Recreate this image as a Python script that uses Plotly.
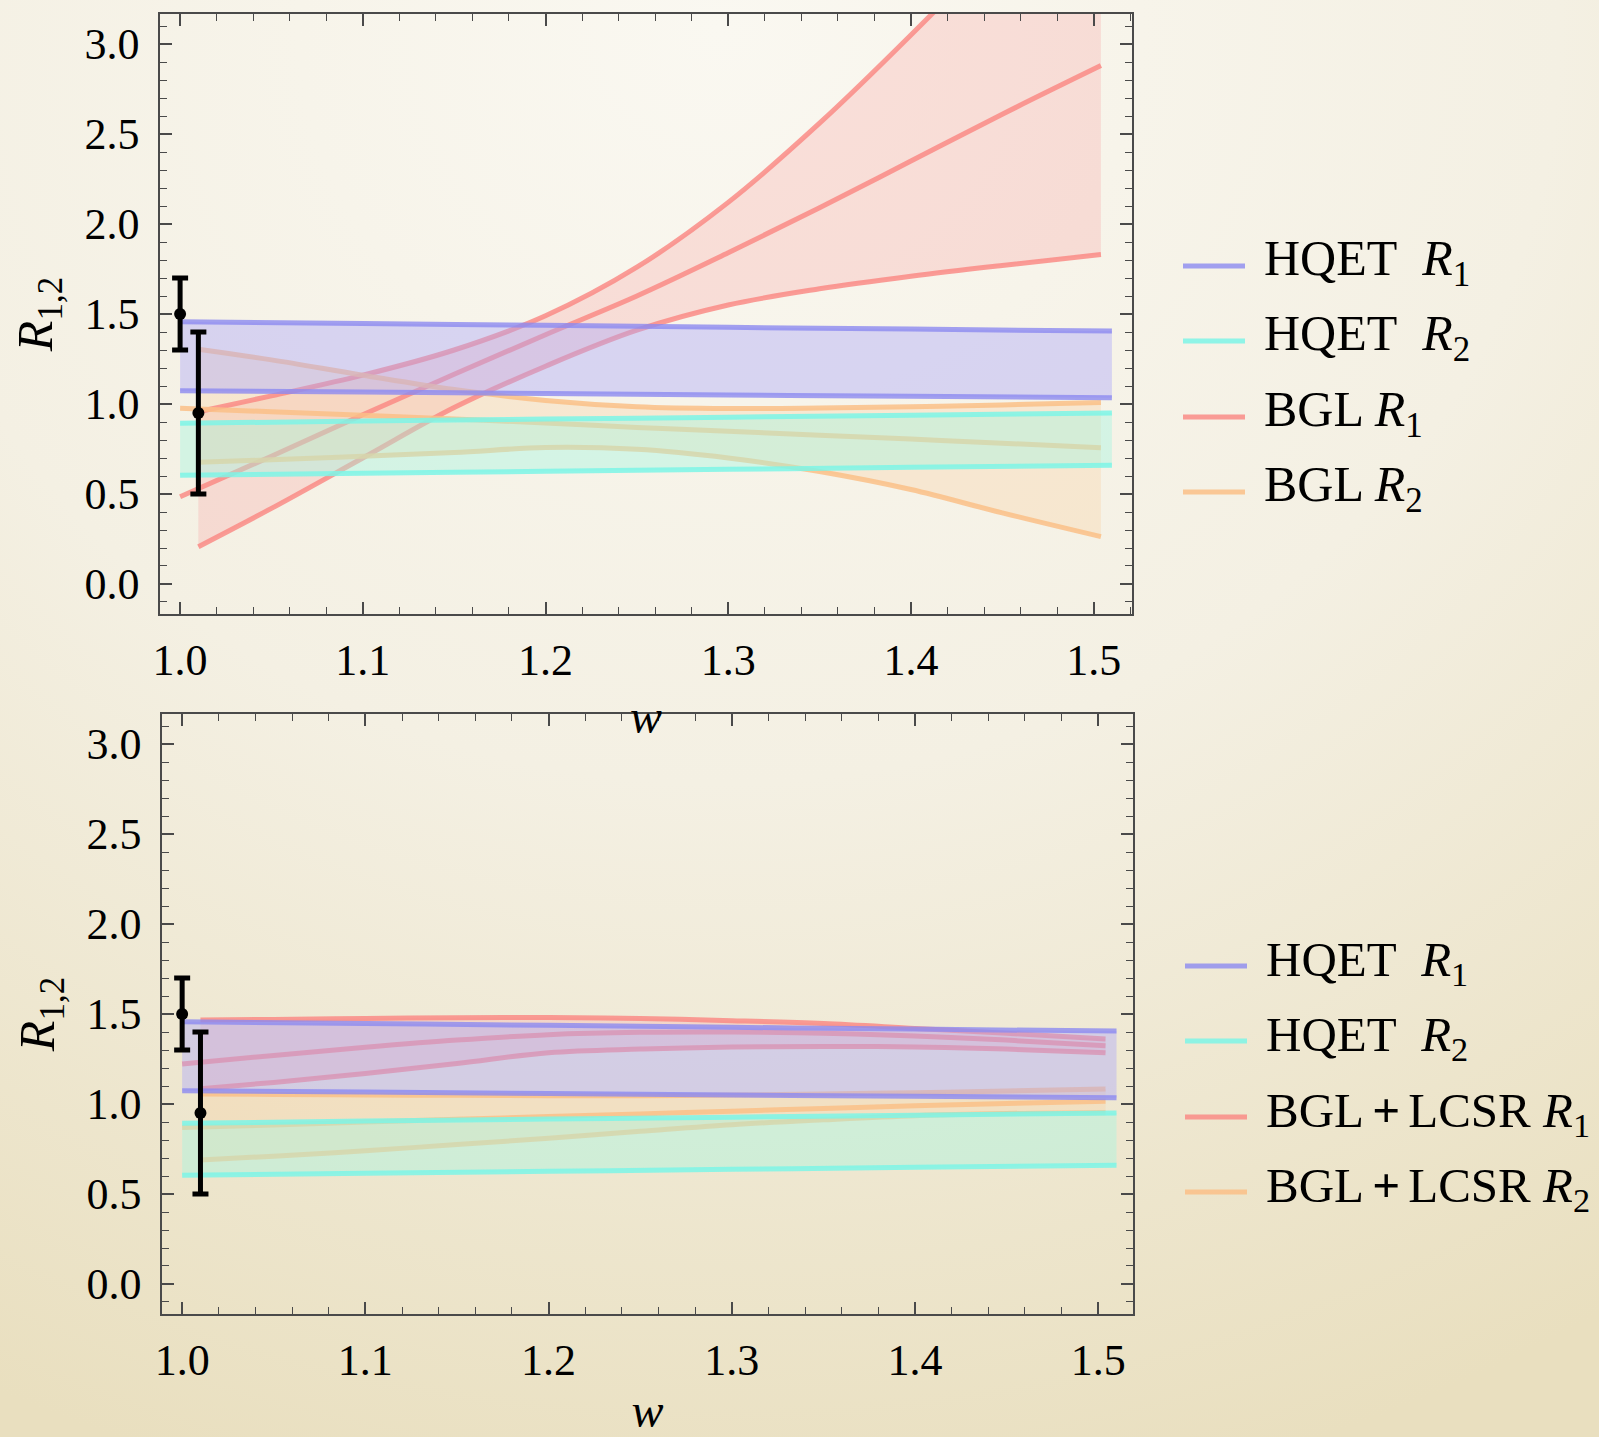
import base64
import plotly.graph_objects as go

# ---------------- data ----------------
# grid of w values for band edges (start at 1.01) and central curves (start at 1.0)
w_band = [1.01, 1.05, 1.10, 1.15, 1.20, 1.25, 1.30, 1.35, 1.40, 1.45, 1.504]
w_cent = [1.00, 1.05, 1.10, 1.15, 1.20, 1.25, 1.30, 1.35, 1.40, 1.45, 1.504]
w_hqet = [1.00, 1.10, 1.20, 1.30, 1.40, 1.51]

# HQET bands (same in both panels)
hqet_r1_hi = [1.457, 1.447, 1.437, 1.426, 1.416, 1.405]
hqet_r1_lo = [1.074, 1.066, 1.058, 1.050, 1.043, 1.035]
hqet_r2_hi = [0.893, 0.905, 0.916, 0.927, 0.938, 0.950]
hqet_r2_lo = [0.604, 0.615, 0.626, 0.637, 0.648, 0.660]

# BGL (top panel)
bgl_r1_hi = [0.957, 1.045, 1.16, 1.30, 1.49, 1.76, 2.12, 2.56, 3.05, 3.57, 4.17]
bgl_r1_c = [0.485, 0.71, 0.94, 1.165, 1.385, 1.60, 1.84, 2.09, 2.35, 2.61, 2.88]
bgl_r1_lo = [0.207, 0.42, 0.70, 0.98, 1.21, 1.41, 1.55, 1.64, 1.71, 1.77, 1.83]
bgl_r2_hi = [1.304, 1.245, 1.16, 1.08, 1.02, 0.985, 0.975, 0.978, 0.985, 0.995, 1.009]
bgl_r2_c = [0.976, 0.957, 0.937, 0.916, 0.895, 0.870, 0.848, 0.827, 0.805, 0.782, 0.757]
bgl_r2_lo = [0.676, 0.69, 0.71, 0.73, 0.758, 0.748, 0.70, 0.625, 0.525, 0.395, 0.263]

# BGL + LCSR (bottom panel)
lcsr_r1_hi = [1.467, 1.47, 1.475, 1.479, 1.48, 1.475, 1.463, 1.447, 1.42, 1.393, 1.361]
lcsr_r1_c = [1.222, 1.27, 1.315, 1.355, 1.385, 1.398, 1.40, 1.393, 1.378, 1.355, 1.324]
lcsr_r1_lo = [1.085, 1.12, 1.17, 1.225, 1.285, 1.305, 1.316, 1.32, 1.317, 1.305, 1.285]
lcsr_r2_hi = [1.055, 1.053, 1.05, 1.048, 1.046, 1.046, 1.05, 1.055, 1.063, 1.072, 1.083]
lcsr_r2_c = [0.869, 0.884, 0.90, 0.915, 0.93, 0.945, 0.96, 0.975, 0.99, 1.003, 1.015]
lcsr_r2_lo = [0.689, 0.71, 0.74, 0.775, 0.81, 0.848, 0.885, 0.912, 0.935, 0.947, 0.952]

# measured points
w_data = [1.0, 1.01]
r_data = [1.5, 0.95]
r_err = [0.2, 0.45]

x_ticks = [1.0, 1.1, 1.2, 1.3, 1.4, 1.5]
y_ticks = [0.0, 0.5, 1.0, 1.5, 2.0, 2.5, 3.0]

legend_top = ["HQET\u00a0\u00a0<i>R</i><sub>1</sub>", "HQET\u00a0\u00a0<i>R</i><sub>2</sub>",
              "BGL <i>R</i><sub>1</sub>", "BGL <i>R</i><sub>2</sub>"]
legend_bot = ["HQET\u00a0\u00a0<i>R</i><sub>1</sub>", "HQET\u00a0\u00a0<i>R</i><sub>2</sub>",
              "BGL\u2006<b>+</b>\u2006LCSR <i>R</i><sub>1</sub>",
              "BGL\u2006<b>+</b>\u2006LCSR <i>R</i><sub>2</sub>"]

# ---------------- styles ----------------
FONT = "Liberation Serif"
C_BLUE = "rgba(140,138,240,0.8)"
C_CYAN = "rgba(125,245,230,0.85)"
C_RED = "rgba(250,135,130,0.82)"
C_ORANGE = "rgba(250,192,135,0.85)"
F_BLUE = "rgba(172,168,250,0.42)"
F_CYAN = "rgba(165,245,225,0.42)"
F_RED = "rgba(250,165,165,0.30)"
F_ORANGE = "rgba(250,205,155,0.30)"
LW = 5

W, H = 1599, 1437

fig = go.Figure()


def band(xa, ya, w, lo, hi, fc, name):
    fig.add_trace(go.Scatter(x=w, y=lo, mode="lines", line=dict(width=0, shape="spline"),
                             xaxis=xa, yaxis=ya, showlegend=False, hoverinfo="skip", name=name))
    fig.add_trace(go.Scatter(x=w, y=hi, mode="lines", line=dict(width=0, shape="spline"),
                             fill="tonexty", fillcolor=fc, xaxis=xa, yaxis=ya,
                             showlegend=False, hoverinfo="skip", name=name))


def curve(xa, ya, w, v, color, name):
    fig.add_trace(go.Scatter(x=w, y=v, mode="lines", line=dict(width=LW, color=color, shape="spline"),
                             xaxis=xa, yaxis=ya, showlegend=False, name=name))


def panel(xa, ya, r1_hi, r1_c, r1_lo, r2_hi, r2_c, r2_lo, lab1, lab2):
    band(xa, ya, w_band, r1_lo, r1_hi, F_RED, lab1)
    band(xa, ya, w_band, r2_lo, r2_hi, F_ORANGE, lab2)
    for v in (r1_hi, r1_lo):
        curve(xa, ya, w_band, v, C_RED, lab1)
    curve(xa, ya, w_cent, r1_c, C_RED, lab1)
    for v in (r2_hi, r2_lo):
        curve(xa, ya, w_band, v, C_ORANGE, lab2)
    curve(xa, ya, w_cent, r2_c, C_ORANGE, lab2)
    band(xa, ya, w_hqet, hqet_r1_lo, hqet_r1_hi, F_BLUE, "HQET R1")
    band(xa, ya, w_hqet, hqet_r2_lo, hqet_r2_hi, F_CYAN, "HQET R2")
    for v in (hqet_r1_hi, hqet_r1_lo):
        curve(xa, ya, w_hqet, v, C_BLUE, "HQET R1")
    for v in (hqet_r2_hi, hqet_r2_lo):
        curve(xa, ya, w_hqet, v, C_CYAN, "HQET R2")
    fig.add_trace(go.Scatter(x=w_data, y=r_data, mode="markers", xaxis=xa, yaxis=ya,
                             marker=dict(size=12, color="black"),
                             error_y=dict(type="data", array=r_err, visible=True,
                                          color="black", thickness=5, width=8),
                             showlegend=False, name="data"))


panel("x", "y", bgl_r1_hi, bgl_r1_c, bgl_r1_lo, bgl_r2_hi, bgl_r2_c, bgl_r2_lo, "BGL R1", "BGL R2")
panel("x2", "y2", lcsr_r1_hi, lcsr_r1_c, lcsr_r1_lo, lcsr_r2_hi, lcsr_r2_c, lcsr_r2_lo,
      "BGL+LCSR R1", "BGL+LCSR R2")

# ---------------- axes ----------------
tickfont = dict(family=FONT, size=44, color="black")
AXC = "#4a4a4a"


def xaxis(domain, rng, anchor, standoff):
    return dict(domain=domain, range=rng, anchor=anchor, automargin=False, tickmode="array",
                tickvals=x_ticks, ticktext=[f"{t:.1f}" for t in x_ticks], ticks="inside",
                ticklen=12, tickwidth=1.5, tickcolor=AXC, showline=True, linecolor=AXC,
                linewidth=1.6, mirror="allticks", showgrid=False, zeroline=False,
                tickfont=tickfont, ticklabelstandoff=6,
                minor=dict(tickmode="linear", tick0=1.0, dtick=0.02, ticks="inside", ticklen=7,
                           tickwidth=1.2, tickcolor=AXC, showgrid=False),
                title=dict(text="<i>w</i>", font=dict(family=FONT, size=48, color="black"),
                           standoff=standoff))


def yaxis(domain, anchor):
    return dict(domain=domain, range=[-0.1667, 3.1667], anchor=anchor, automargin=False,
                tickmode="array", tickvals=y_ticks, ticktext=[f"{t:.1f}" for t in y_ticks],
                ticks="inside", ticklen=12, tickwidth=1.5, tickcolor=AXC, showline=True,
                linecolor=AXC, linewidth=1.6, mirror="allticks", showgrid=False, zeroline=False,
                tickfont=tickfont, ticklabelstandoff=10,
                minor=dict(tickmode="linear", tick0=0.0, dtick=0.1, ticks="inside", ticklen=7,
                           tickwidth=1.2, tickcolor=AXC, showgrid=False),
                title=dict(text="<i>R</i><sub>1,2</sub>",
                           font=dict(family=FONT, size=50, color="black"), standoff=16))


# ---------------- background ----------------
svg = (f'<svg xmlns="http://www.w3.org/2000/svg" width="{W}" height="{H}" viewBox="0 0 {W} {H}" '
       'preserveAspectRatio="none"><defs><radialGradient id="g" cx="0.45" cy="0.02" r="1.05">'
       '<stop offset="0" stop-color="#faf8f1"/><stop offset="0.5" stop-color="#f4f0e3"/>'
       '<stop offset="1" stop-color="#e9dfbf"/></radialGradient></defs>'
       f'<rect width="{W}" height="{H}" fill="url(#g)"/></svg>')
bg_uri = "data:image/svg+xml;base64," + base64.b64encode(svg.encode()).decode()

# ---------------- legends (drawn manually) ----------------
shapes, annos = [], []
leg_colors = [C_BLUE, C_CYAN, C_RED, C_ORANGE]


def legend(items, ys, x0, x1, xt, size):
    for txt, yy, col in zip(items, ys, leg_colors):
        shapes.append(dict(type="line", xref="paper", yref="paper", x0=x0 / W, x1=x1 / W,
                           y0=1 - yy / H, y1=1 - yy / H, line=dict(color=col, width=5)))
        annos.append(dict(text=txt, xref="paper", yref="paper", x=xt / W, y=1 - (yy - 4) / H,
                          xanchor="left", yanchor="middle", showarrow=False,
                          font=dict(family=FONT, size=size, color="black")))


legend(legend_top, [266, 341, 417, 492], 1183, 1245, 1262, 50)
legend(legend_bot, [966, 1041, 1117, 1192], 1185, 1247, 1264, 49)

fig.update_layout(
    width=W, height=H, margin=dict(l=0, r=0, t=0, b=0, autoexpand=False),
    paper_bgcolor="#f2eddf", plot_bgcolor="rgba(0,0,0,0)",
    font=dict(family=FONT, color="black"),
    xaxis=xaxis([160 / W, 1132 / W], [0.989, 1.521], "y", 16),
    yaxis=yaxis([1 - 614 / H, 1 - 14 / H], "x"),
    xaxis2=xaxis([162 / W, 1133 / W], [0.989, 1.519], "y2", 21),
    yaxis2=yaxis([1 - 1314 / H, 1 - 714 / H], "x2"),
    shapes=shapes, annotations=annos, showlegend=False,
    images=[dict(source=bg_uri, xref="paper", yref="paper", x=0, y=1, sizex=1, sizey=1,
                 sizing="stretch", layer="below", xanchor="left", yanchor="top")],
)

fig.write_html("out.html")
